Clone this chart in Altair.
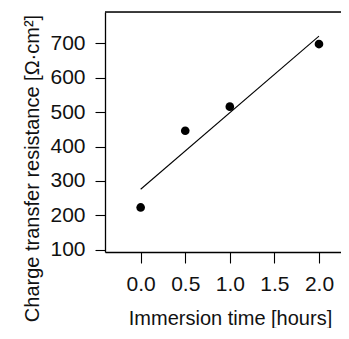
import altair as alt
import pandas as pd

# data
time_h = [0.0, 0.5, 1.0, 2.0]
resistance = [223, 446, 516, 698]
fit_time = [0.0, 2.0]
fit_resistance = [276, 721]
x_ticks = [0.0, 0.5, 1.0, 1.5, 2.0]
y_ticks = [100, 200, 300, 400, 500, 600, 700]

pts = pd.DataFrame({"t": time_h, "r": resistance})
fit = pd.DataFrame({"t": fit_time, "r": fit_resistance})

FONT = "Liberation Sans"
W, H = 236, 240

xscale = alt.Scale(domain=[-0.40, 2.247], nice=False, zero=False)
yscale = alt.Scale(domain=[93.5, 791.2], nice=False, zero=False)

xaxis = alt.Axis(
    values=x_ticks, format=".1f", grid=False, labelOverlap=False,
    domain=True, domainColor="black", domainWidth=1.3,
    tickColor="black", tickSize=11, tickWidth=1.1,
    labelFont=FONT, labelFontSize=21, labelColor="#111", labelPadding=10,
    title="Immersion time [hours]", titleFont=FONT, titleFontSize=20,
    titleFontWeight="normal", titleColor="#111",
    titleAnchor=None, titleX=125, titleY=72, titleBaseline="alphabetic",
    titleAlign="center",
)
yaxis = alt.Axis(
    values=y_ticks, format="d", grid=False, labelOverlap=False,
    domain=True, domainColor="black", domainWidth=1.3,
    tickColor="black", tickSize=10, tickWidth=1.1,
    labelFont=FONT, labelFontSize=21, labelColor="#111", labelPadding=10,
    title="Charge transfer resistance [Ω·cm²]", titleFont=FONT, titleFontSize=20,
    titleFontWeight="normal", titleColor="#111",
    titleAnchor=None, titleX=-67, titleY=156, titleBaseline="alphabetic",
    titleAlign="center", titleAngle=270,
)

points = alt.Chart(pts).mark_circle(size=75, color="black", opacity=1).encode(
    x=alt.X("t:Q", scale=xscale, axis=xaxis),
    y=alt.Y("r:Q", scale=yscale, axis=yaxis),
)

line = alt.Chart(fit).mark_line(color="black", strokeWidth=1.1).encode(
    x=alt.X("t:Q", scale=xscale, axis=xaxis),
    y=alt.Y("r:Q", scale=yscale, axis=yaxis),
)

top_frame = alt.Chart(pd.DataFrame({"a": [0]})).mark_rule(
    color="black", strokeWidth=1.3
).encode(x=alt.value(0), x2=alt.value(W), y=alt.value(0))

chart = alt.layer(points, line, top_frame).properties(
    width=W, height=H,
    autosize=alt.AutoSizeParams(type="none"),
    padding={"left": 97, "top": 4, "right": 0, "bottom": 76},
).configure_view(stroke=None).configure(background="white")

chart.save("out.html", embed_options={"renderer": "svg", "actions": False})
